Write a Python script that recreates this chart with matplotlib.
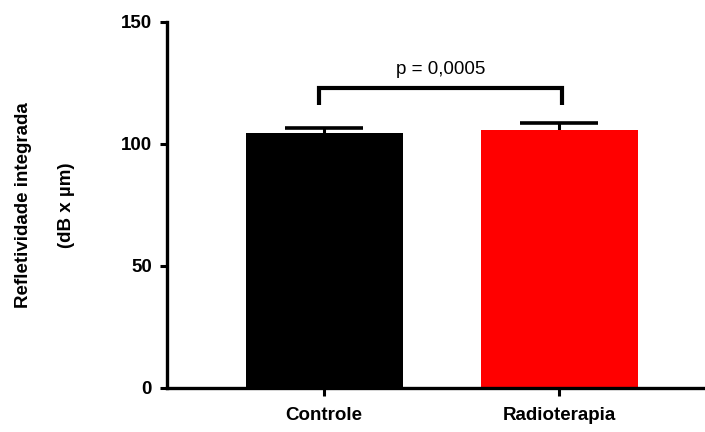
import matplotlib
matplotlib.use("Agg")
import matplotlib.pyplot as plt

categories = ["Controle", "Radioterapia"]
means = [104.5, 105.7]
errors = [2.2, 3.1]
colors = ["#000000", "#ff0000"]
p_text = "p = 0,0005"

plt.rcParams['font.family'] = ['Liberation Sans', 'DejaVu Sans']

fig = plt.figure(figsize=(7.05, 4.32), dpi=100)
ax = fig.add_axes([167/705, 44/432, 1 - 167/705, (388-22)/432])

x = list(range(len(categories)))
ax.bar(x, means, width=0.667, color=colors, zorder=2)
for xi, m, e in zip(x, means, errors):
    _, caps, _ = ax.errorbar([xi], [m], yerr=[[0], [e]], fmt='none', ecolor='black',
                             elinewidth=2.2, capsize=28, capthick=2.6, zorder=1)
    caps[0].set_visible(False)

ax.set_xlim(-0.667, 1.618)
ax.set_ylim(0, 150)
ax.set_yticks([0, 50, 100, 150])
ax.set_xticks(x)
ax.set_xticklabels(categories, fontsize=13.5, fontweight='bold')
ax.tick_params(axis='y', labelsize=13.5, width=2.2, length=5, pad=6)
ax.tick_params(axis='x', width=2.2, length=6, pad=8)
for lab in ax.get_yticklabels():
    lab.set_fontweight('bold')

for s in ['top', 'right']:
    ax.spines[s].set_visible(False)
for s in ['left', 'bottom']:
    ax.spines[s].set_linewidth(2.4)

# significance bracket
x1, x2 = -0.02, 1.01
ybot, ytop = 116, 123
ax.plot([x1, x1, x2, x2], [ybot, ytop, ytop, ybot], color='black', lw=3,
        solid_capstyle='butt', solid_joinstyle='miter', clip_on=False)
ax.text((x1 + x2) / 2, 127, p_text, ha='center', va='bottom', fontsize=13.5)

ax.set_ylabel("Refletividade integrada\n(dB x µm)", fontsize=13.5,
              fontweight='bold', linespacing=3.0)
ax.yaxis.set_label_coords(-0.171, 0.5)

fig.savefig("out.png", dpi=100)
